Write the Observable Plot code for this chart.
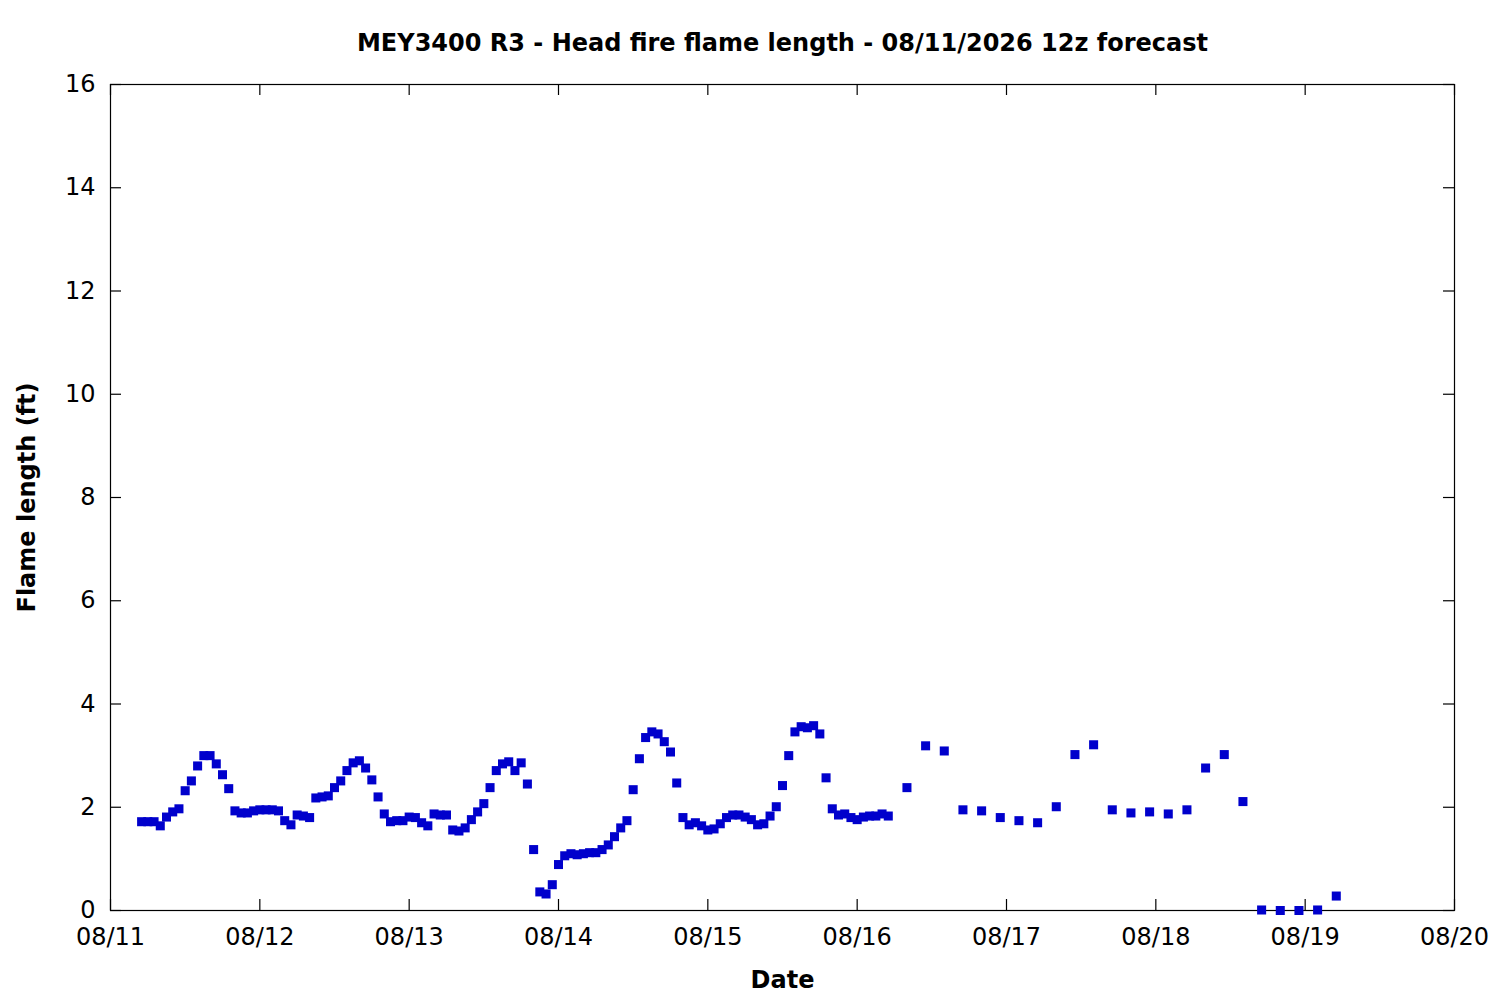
<!DOCTYPE html>
<html>
<head>
<meta charset="utf-8">
<script src="https://cdn.jsdelivr.net/npm/d3@7"></script>
<script src="https://cdn.jsdelivr.net/npm/@observablehq/plot@0.6"></script>
<style>
  html, body { margin: 0; padding: 0; background: #fff; }
  #chart svg { display: block; }
</style>
</head>
<body>
<div id="chart"></div>
<script>
// Hourly forecast values (ft), starting 08/11 05:00
const hourlyStart = "2026-08-11T05:00:00Z";
const hourlyValues = [
  1.72,1.72,1.72,1.64,1.81,1.91,1.97,2.32,2.51,2.80,3.00,3.00,2.84,2.63,2.36,1.93,1.89,1.89,1.93,
  1.95,1.95,1.95,1.93,1.74,1.66,1.85,1.83,1.80,2.18,2.20,2.22,2.38,2.51,2.71,2.86,2.90,2.76,2.53,2.20,1.87,1.72,1.74,1.74,
  1.81,1.80,1.70,1.64,1.87,1.85,1.85,1.56,1.54,1.60,1.76,1.91,2.07,2.38,2.71,2.84,2.88,2.71,2.86,2.45,1.18,0.36,0.32,0.50,
  0.89,1.06,1.10,1.08,1.10,1.12,1.12,1.18,1.27,1.43,1.60,1.74,2.34,2.94,3.35,3.46,3.42,3.27,3.07,2.47,1.80,1.66,1.70,1.64,
  1.56,1.58,1.68,1.80,1.85,1.85,1.81,1.76,1.66,1.68,1.83,2.01,2.42,3.00,3.46,3.56,3.54,3.58,3.42,2.57,1.97,1.85,1.87,1.80,
  1.76,1.81,1.83,1.83,1.87,1.83
];
// 3-hourly forecast values (ft), starting 08/16 08:00
const threeHourlyStart = "2026-08-16T08:00:00Z";
const threeHourlyValues = [
  2.38,3.19,3.09,1.95,1.93,1.80,1.74,1.70,2.01,3.02,3.21,1.95,1.89,1.91,1.87,1.95,2.76,3.02,2.11,0.01,0.00,0.00,0.01,0.28
];
const xTickLabels = ["08/11","08/12","08/13","08/14","08/15","08/16","08/17","08/18","08/19","08/20"];
const yTicks = [0,2,4,6,8,10,12,14,16];

const titleText = "MEY3400 R3 - Head fire flame length - 08/11/2026 12z forecast";
const xLabel = "Date";
const yLabel = "Flame length (ft)";

const HOUR = 3600 * 1000;
const data = [
  ...hourlyValues.map((v, i) => ({t: new Date(Date.parse(hourlyStart) + i * HOUR), v})),
  ...threeHourlyValues.map((v, i) => ({t: new Date(Date.parse(threeHourlyStart) + i * 3 * HOUR), v}))
];
const xTicks = xTickLabels.map(s => new Date(Date.UTC(2026, +s.slice(0,2) - 1, +s.slice(3))));
const fmt = d3.utcFormat("%m/%d");

const W = 1500, H = 1000;
const mL = 110, mR = 46, mT = 84, mB = 90;
const frameW = W - mL - mR, frameH = H - mT - mB;
const tickLen = 11;
const FS = 24;

const chart = Plot.plot({
  width: W,
  height: H,
  marginLeft: mL,
  marginRight: mR,
  marginTop: mT,
  marginBottom: mB,
  style: {fontFamily: "DejaVu Sans", fontSize: FS + "px", color: "#000", background: "#fff"},
  x: {type: "utc", domain: [xTicks[0], xTicks[xTicks.length - 1]]},
  y: {domain: [0, 16]},
  marks: [
    Plot.frame({stroke: "#000", strokeWidth: 1.2}),
    // inward ticks, bottom & top
    Plot.tickX(xTicks, {x: d => d, insetTop: frameH - tickLen, stroke: "#000", strokeWidth: 1.2}),
    Plot.tickX(xTicks, {x: d => d, insetBottom: frameH - tickLen, stroke: "#000", strokeWidth: 1.2}),
    // inward ticks, left & right
    Plot.tickY(yTicks, {y: d => d, insetRight: frameW - tickLen, stroke: "#000", strokeWidth: 1.2}),
    Plot.tickY(yTicks, {y: d => d, insetLeft: frameW - tickLen, stroke: "#000", strokeWidth: 1.2}),
    Plot.axisX({ticks: xTicks, tickFormat: fmt, tickSize: 0, tickPadding: 17, label: null, fontSize: FS}),
    Plot.axisY({ticks: yTicks, tickSize: 0, tickPadding: 15, label: null, fontSize: FS}),
    Plot.dot(data, {x: "t", y: "v", symbol: "square", r: 5.1, fill: "#0000cc", stroke: null}),
    Plot.text([titleText], {frameAnchor: "top", dy: -41, fontWeight: "bold", fontSize: FS, textAnchor: "middle", lineAnchor: "middle", fill: "#000"}),
    Plot.text([xLabel], {frameAnchor: "bottom", dy: 70, fontWeight: "bold", fontSize: FS, textAnchor: "middle", lineAnchor: "middle", fill: "#000"}),
    Plot.text([yLabel], {frameAnchor: "left", dx: -83, rotate: -90, fontWeight: "bold", fontSize: FS, textAnchor: "middle", lineAnchor: "middle", fill: "#000"})
  ]
});
document.getElementById("chart").appendChild(chart);
</script>
</body>
</html>
